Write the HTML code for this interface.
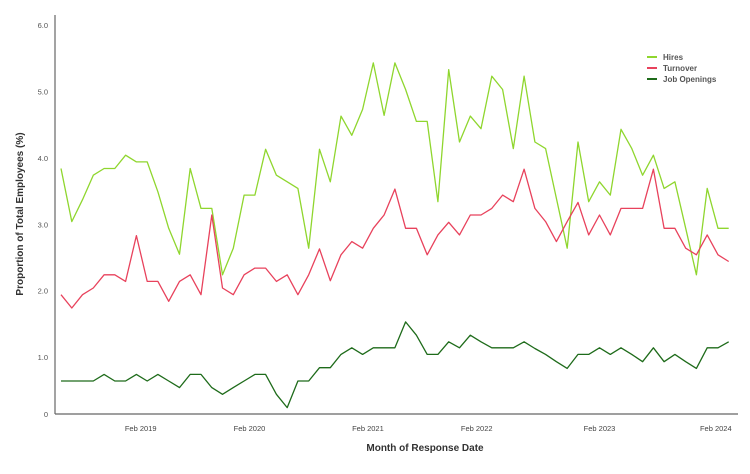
<!DOCTYPE html>
<html><head><meta charset="utf-8"><style>
body{margin:0;background:#fff;font-family:"Liberation Sans",sans-serif;}
svg text{font-family:"Liberation Sans",sans-serif;}
</style></head><body>
<svg id="chart" width="750" height="469" viewBox="0 0 750 469" xmlns="http://www.w3.org/2000/svg">
<g id="axes"></g><g id="series"></g>
<text transform="translate(23,214) rotate(-90)" text-anchor="middle" font-size="10" font-weight="bold" fill="#333">Proportion of Total Employees (%)</text>
<text x="425" y="451" text-anchor="middle" font-size="10" font-weight="bold" fill="#333">Month of Response Date</text>
<g>
<line x1="647" y1="57" x2="657" y2="57" stroke="#8fd62e" stroke-width="2"/><text x="663" y="60" font-size="8" font-weight="bold" fill="#555">Hires</text>
<line x1="647" y1="68" x2="657" y2="68" stroke="#e8425c" stroke-width="2"/><text x="663" y="71" font-size="8" font-weight="bold" fill="#555">Turnover</text>
<line x1="647" y1="79" x2="657" y2="79" stroke="#1e6b1a" stroke-width="2"/><text x="663" y="82" font-size="8" font-weight="bold" fill="#555">Job Openings</text>
</g>
</svg>
<script>
const hires=[3.84,3.04,3.37,3.74,3.84,3.84,4.04,3.94,3.94,3.49,2.94,2.55,3.84,3.24,3.24,2.24,2.64,3.44,3.44,4.13,3.74,3.64,3.54,2.64,4.13,3.64,4.63,4.34,4.73,5.43,4.64,5.43,5.03,4.55,4.55,3.34,5.33,4.24,4.63,4.44,5.23,5.03,4.14,5.23,4.24,4.14,3.39,2.64,4.24,3.34,3.64,3.44,4.43,4.14,3.74,4.04,3.54,3.64,2.94,2.24,3.54,2.94,2.94];
const turnover=[1.94,1.74,1.94,2.04,2.24,2.24,2.14,2.83,2.14,2.14,1.84,2.14,2.24,1.94,3.14,2.04,1.94,2.24,2.34,2.34,2.14,2.24,1.94,2.24,2.63,2.15,2.54,2.74,2.64,2.94,3.14,3.53,2.94,2.94,2.54,2.84,3.03,2.84,3.14,3.14,3.24,3.44,3.34,3.83,3.24,3.04,2.74,3.04,3.33,2.84,3.14,2.84,3.24,3.24,3.24,3.83,2.94,2.94,2.64,2.54,2.84,2.54,2.44];
const openings=[0.64,0.64,0.64,0.64,0.74,0.64,0.64,0.74,0.64,0.74,0.64,0.54,0.74,0.74,0.54,0.44,0.54,0.64,0.74,0.74,0.44,0.24,0.64,0.64,0.84,0.84,1.04,1.14,1.04,1.14,1.14,1.14,1.53,1.33,1.04,1.04,1.23,1.14,1.33,1.23,1.14,1.14,1.14,1.23,1.13,1.04,0.93,0.83,1.04,1.04,1.14,1.04,1.14,1.04,0.93,1.14,0.93,1.04,0.93,0.83,1.14,1.14,1.23];
const yTicks=[0,1,2,3,4,5,6];
const xLabels=["Feb 2019","Feb 2020","Feb 2021","Feb 2022","Feb 2023","Feb 2024"];
const xLabelIdx=[7.4,17.5,28.5,38.6,50,60.8];
const NS="http://www.w3.org/2000/svg";
const X0=61,DX=10.77,AX=55,AY=414;
function xs(i){return X0+i*DX;}
function ys(v){return Math.min(423.5-v*66.4,AY);}
function mk(t,a,p){const e=document.createElementNS(NS,t);for(const k in a)e.setAttribute(k,a[k]);p.appendChild(e);return e;}
const ax=document.getElementById('axes');
const yl=mk('line',{x1:AX,y1:15,x2:AX,y2:AY,stroke:'#666','stroke-width':1.2},ax);


const xl=mk('line',{x1:AX,y1:AY,x2:738,y2:AY,stroke:'#666','stroke-width':1.2},ax);


yTicks.forEach(v=>{const t=mk('text',{x:48,y:ys(v)+3,'text-anchor':'end','font-size':7.5,fill:'#555'},ax);t.textContent=v===0?'0':v.toFixed(1);

});
xLabels.forEach((l,i)=>{const t=mk('text',{x:xs(xLabelIdx[i]),y:431,'text-anchor':'middle','font-size':7.5,fill:'#444'},ax);t.textContent=l;

});
const sg=document.getElementById('series');
[[hires,'#8fd62e','hires-line'],[turnover,'#e8425c','turnover-line'],[openings,'#1e6b1a','job-openings-line']].forEach(([d,c,n])=>{
const p=mk('polyline',{points:d.map((v,i)=>xs(i).toFixed(1)+','+ys(v).toFixed(1)).join(' '),fill:'none',stroke:c,'stroke-width':1.3,'stroke-linejoin':'round'},sg);

});
</script>
</body></html>
